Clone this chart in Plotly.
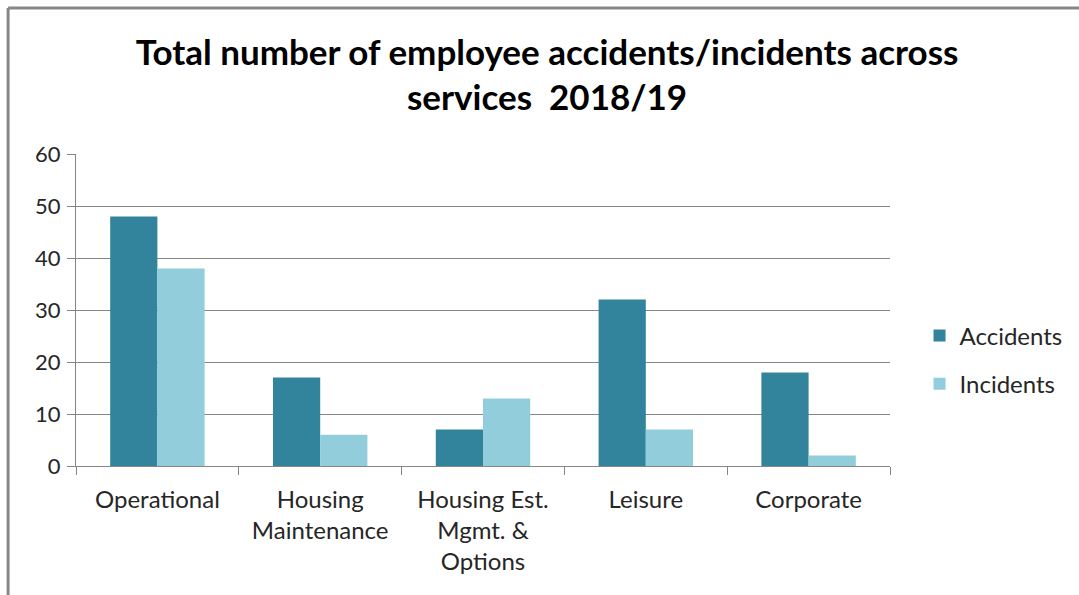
import plotly.graph_objects as go

# Services and counts for 2018/19
services = ["Operational", "Housing<br>Maintenance", "Housing Est.<br>Mgmt. &<br>Options", "Leisure", "Corporate"]
accidents = [48, 17, 7, 32, 18]
incidents = [38, 6, 13, 7, 2]

FONT = "Lato"
TEXT = "#262626"
GRID = "#868686"

fig = go.Figure()
fig.add_trace(go.Bar(x=services, y=accidents, name="Accidents",
                     marker=dict(color="#31849B", line=dict(width=0)),
                     legendgroup="a"))
fig.add_trace(go.Bar(x=services, y=incidents, name="Incidents",
                     marker=dict(color="#92CDDC", line=dict(width=0)),
                     legendgroup="b"))

fig.update_layout(
    width=1079, height=595,
    margin=dict(l=76, r=188, t=154, b=129),
    paper_bgcolor="white", plot_bgcolor="white",
    barmode="group", bargap=0.42, bargroupgap=0,
    font=dict(family=FONT, color=TEXT, size=21),
    title=dict(text="<b>Total number of employee accidents/incidents across<br>services  2018/19</b>",
               x=0.507, xanchor="center", y=0.891, yanchor="middle",
               font=dict(family=FONT, size=35, color="black")),
    legend=dict(x=1.035, xanchor="left", y=0.34, yanchor="middle",
                font=dict(family=FONT, size=24, color=TEXT),
                tracegroupgap=14, itemwidth=30),
    showlegend=True,
)

fig.update_xaxes(showline=True, linecolor=GRID, linewidth=1,
                 ticks="outside", tickson="boundaries", ticklen=8, tickcolor=GRID,
                 tickfont=dict(family=FONT, size=24, color=TEXT),
                 ticklabelstandoff=12,
                 showgrid=False)
fig.update_yaxes(range=[0, 60], dtick=10, showline=True, linecolor=GRID, linewidth=1,
                 ticks="outside", ticklen=8, tickcolor=GRID,
                 showgrid=True, gridcolor=GRID, gridwidth=1,
                 zeroline=False, ticklabelstandoff=2,
                 tickfont=dict(family=FONT, size=22, color=TEXT))

# Chart frame edges (left and top)
fig.add_shape(type="line", xref="paper", yref="paper",
              x0=-0.0834, x1=-0.0834, y0=-0.5, y1=1.468,
              line=dict(color="#878787", width=3))
fig.add_shape(type="line", xref="paper", yref="paper",
              x0=-0.0834, x1=1.3, y0=1.468, y1=1.468,
              line=dict(color="#878787", width=3))

fig.write_html("out.html")
